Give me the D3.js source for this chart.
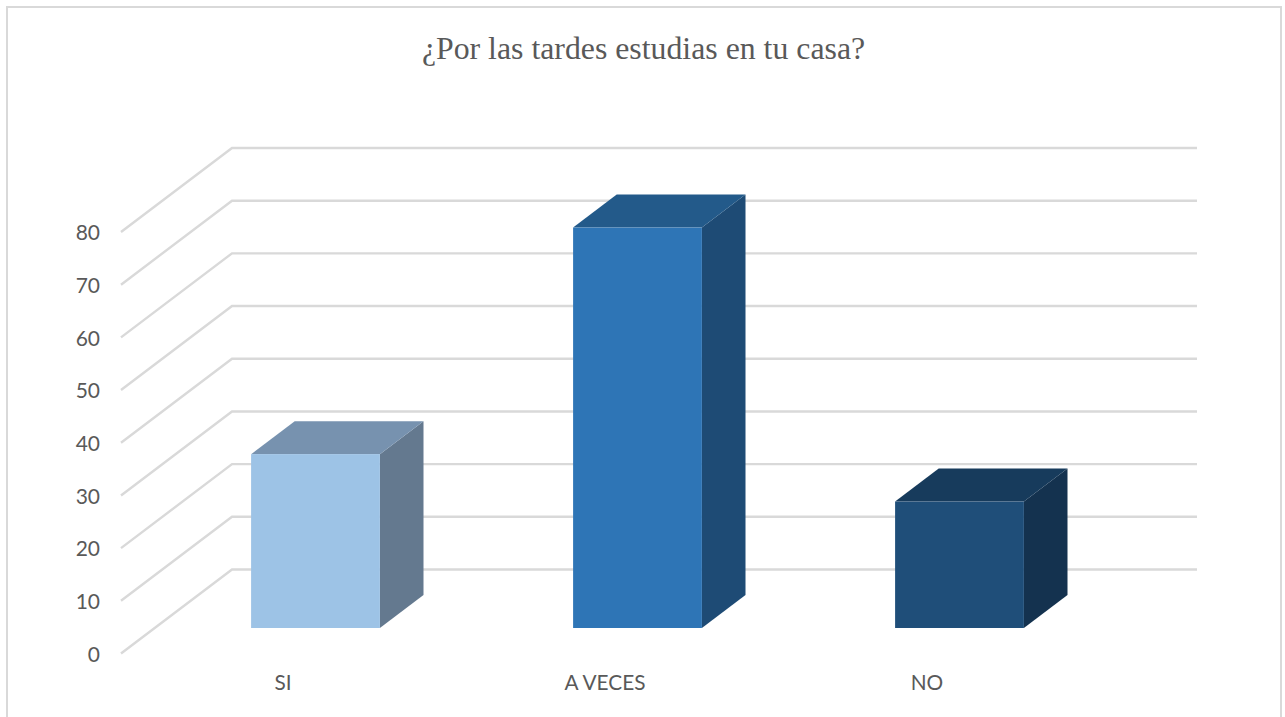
<!DOCTYPE html>
<html>
<head>
<meta charset="utf-8">
<script src="https://cdn.jsdelivr.net/npm/d3@7"></script>
<style>
  html, body { margin: 0; padding: 0; background: #fff; overflow: hidden; }
</style>
</head>
<body>
<div id="graph"></div>
<script>
// Chart data
const categories = ["SI", "A VECES", "NO"];
const values = [33, 76, 24];
const yTicks = [0, 10, 20, 30, 40, 50, 60, 70, 80];
const titleText = "¿Por las tardes estudias en tu casa?";

// Colours per bar: front, top and side faces
const frontColors = ["#9DC3E6", "#2E75B6", "#1F4E79"];
const topColors = ["#7792AF", "#235A8A", "#173B5C"];
const sideColors = ["#64798F", "#1E4B75", "#14324F"];

const width = 1285, height = 717;

let svg = d3.select("#graph")
    .append("svg")
    .attr("width", width)
    .attr("height", height)
    .style("display", "block");

// Chart frame, the bottom edge runs past the picture
svg.append("rect")
    .attr("x", 7)
    .attr("y", 7)
    .attr("width", 1274)
    .attr("height", 730)
    .attr("fill", "#fff")
    .attr("stroke", "#d9d9d9")
    .attr("stroke-width", 2);

svg.append("text")
    .attr("x", 643.5)
    .attr("y", 59)
    .attr("text-anchor", "middle")
    .style("font-family", "'Liberation Serif'")
    .style("font-size", "31.8px")
    .style("fill", "#595959")
    .text(titleText);

// Scale on the front edge of the floor
let y = d3.scaleLinear().domain([0, 80]).range([653.5, 232]);

// Bars, front faces
let x = d3.scaleBand()
    .domain(categories)
    .range([154.5, 1120.5])
    .paddingInner(0.6)
    .paddingOuter(0.3);

// Oblique depth of the 3D box
const depth = {x: 111, y: -84};   // whole floor, front to back
const barInset = 25.5 / 84;       // where the bar front stands on the floor
const barDepth = 33 / 84;         // how deep the bar is

// Walls and gridlines: from the front edge to the back, then across
let grid = svg.append("g");
grid.selectAll("path")
    .data(yTicks)
    .enter()
    .append("path")
    .attr("fill", "none")
    .attr("stroke", "#d9d9d9")
    .attr("stroke-width", 2.4)
    .attr("d", function(d) {
        return d3.line()([
            [121, y(d)],
            [121 + depth.x, y(d) + depth.y],
            [1197, y(d) + depth.y]
        ]);
    });

// Y axis labels
let yAxis = svg.append("g")
    .attr("transform", "translate(121, 1)")
    .call(d3.axisLeft(y).tickValues(yTicks).tickSize(0).tickPadding(21));
yAxis.select(".domain").remove();
yAxis.selectAll("text")
    .style("font-family", "Lato")
    .style("font-size", "21px")
    .style("fill", "#595959");

// Draw one box for each category
let bars = svg.selectAll(".bar")
    .data(categories)
    .enter()
    .append("g")
    .attr("class", "bar");

function barCorners(d, i) {
    let base = y(0) + depth.y * barInset;
    return {
        x0: x(d),
        x1: x(d) + x.bandwidth(),
        yTop: base - (y(0) - y(values[i])),
        yBottom: base,
        dx: depth.x * barDepth,
        dy: depth.y * barDepth
    };
}

// Side face
bars.append("polygon")
    .attr("fill", function(d, i) { return sideColors[i]; })
    .attr("points", function(d, i) {
        let c = barCorners(d, i);
        return [[c.x1, c.yTop], [c.x1 + c.dx, c.yTop + c.dy],
                [c.x1 + c.dx, c.yBottom + c.dy], [c.x1, c.yBottom]].join(" ");
    });

// Top face
bars.append("polygon")
    .attr("fill", function(d, i) { return topColors[i]; })
    .attr("points", function(d, i) {
        let c = barCorners(d, i);
        return [[c.x0, c.yTop], [c.x0 + c.dx, c.yTop + c.dy],
                [c.x1 + c.dx, c.yTop + c.dy], [c.x1, c.yTop]].join(" ");
    });

// Front face
bars.append("rect")
    .attr("fill", function(d, i) { return frontColors[i]; })
    .attr("x", function(d, i) { return barCorners(d, i).x0; })
    .attr("y", function(d, i) { return barCorners(d, i).yTop; })
    .attr("width", x.bandwidth())
    .attr("height", function(d) { return y(0) - y(values[categories.indexOf(d)]); });

// Category labels sit on the front of the floor, left of the bars
svg.append("g")
    .selectAll("text")
    .data(categories)
    .enter()
    .append("text")
    .attr("x", function(d) { return x(d) + x.bandwidth() / 2 - 32.5; })
    .attr("y", 690)
    .attr("text-anchor", "middle")
    .style("font-family", "Lato")
    .style("font-size", "20.8px")
    .style("fill", "#595959")
    .text(function(d) { return d; });
</script>
</body>
</html>
